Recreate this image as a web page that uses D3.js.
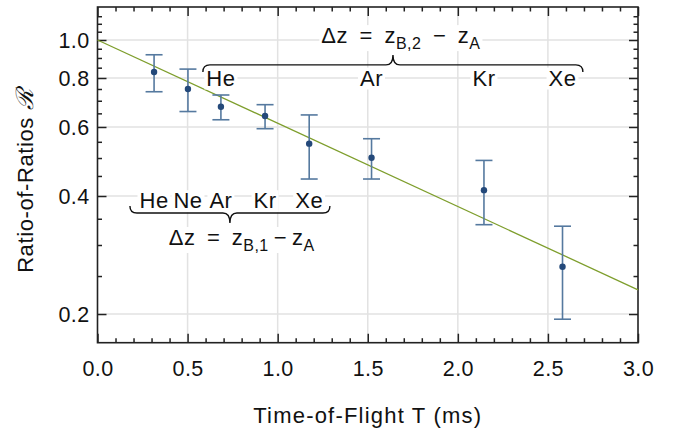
<!DOCTYPE html>
<html>
<head>
<meta charset="utf-8">
<script src="https://cdn.jsdelivr.net/npm/d3@7"></script>
<style>
  body { margin: 0; background: #fff; }
  text { font-family: "Liberation Sans", Arial, sans-serif; fill: #111; }
</style>
</head>
<body>
<div id="main"></div>
<script>
// Measured points: time of flight T (ms), ratio R and the error bar ends
var timeT  = [0.314, 0.502, 0.685, 0.930, 1.175, 1.521, 2.145, 2.581];
var ratioR = [0.829, 0.750, 0.676, 0.640, 0.544, 0.501, 0.414, 0.264];
var errLow = [0.738, 0.657, 0.626, 0.594, 0.442, 0.442, 0.338, 0.194];
var errHigh = [0.917, 0.843, 0.724, 0.684, 0.644, 0.560, 0.493, 0.335];

// Fitted exponential line, end points
var fitT = [0, 3.0];
var fitR = [1.0, 0.2306];

// Tick labels
var xTicks = [0, 0.5, 1.0, 1.5, 2.0, 2.5, 3.0];
var yTicks = [0.2, 0.4, 0.6, 0.8, 1.0];

// Element labels above the upper brace (z_B,2) and above the lower brace (z_B,1)
var upperNames = ["He", "Ar", "Kr", "Xe"];
var upperT = [0.685, 1.521, 2.145, 2.581];
var lowerNames = ["He", "Ne", "Ar", "Kr", "Xe"];
var lowerT = [0.314, 0.502, 0.685, 0.930, 1.175];

var width = 678, height = 430;
var plotLeft = 97.5, plotRight = 638, plotTop = 7, plotBottom = 342.7;

var svg = d3.select("#main").append("svg")
  .attr("width", width)
  .attr("height", height);

var x = d3.scaleLinear().domain([0, 3]).range([plotLeft, plotRight]);
var y = d3.scaleLog().domain([0.169, 1.214]).range([plotBottom, plotTop]);

var xMinor = d3.range(0, 3.0001, 0.1).filter(function(v) { return Math.abs(v * 2 - Math.round(v * 2)) > 1e-6; });
var yMinor = d3.range(0.25, 1.2001, 0.05).filter(function(v) { return Math.abs(v * 5 - Math.round(v * 5)) > 1e-6; });

// Grid lines
var grid = svg.append("g").attr("stroke", "#e2e2e2").attr("stroke-width", 1.5);
xTicks.slice(1, -1).forEach(function(v) {
  grid.append("line").attr("x1", x(v)).attr("x2", x(v)).attr("y1", plotTop).attr("y2", plotBottom);
});
yTicks.forEach(function(v) {
  grid.append("line").attr("x1", plotLeft).attr("x2", plotRight).attr("y1", y(v)).attr("y2", y(v));
});

// Frame axes, ticks pointing inward on all four sides
function axisSet(axis, scale, major, minor, tr, labels) {
  var gMinor = svg.append("g").attr("transform", tr)
    .call(axis(scale).tickValues(minor).tickSize(-4.5).tickFormat(""));
  var gMajor = svg.append("g").attr("transform", tr)
    .call(axis(scale).tickValues(major).tickSize(-9).tickPadding(0)
      .tickFormat(labels ? d3.format(".1f") : ""));
  [gMinor, gMajor].forEach(function(g) {
    g.attr("font-size", null).attr("font-family", null);
    g.select(".domain").remove();
    g.selectAll(".tick line").attr("stroke", "#222").attr("stroke-width", 1.5);
  });
  gMajor.selectAll(".tick text")
    .style("font-size", "21.5px")
    .style("letter-spacing", "0.4px")
    .attr("fill", "#111");
  return gMajor;
}
var gx = axisSet(d3.axisBottom, x, xTicks, xMinor, "translate(0," + plotBottom + ")", true);
gx.selectAll(".tick text").attr("dy", null).attr("y", 33);
axisSet(d3.axisTop, x, xTicks, xMinor, "translate(0," + plotTop + ")", false);
var gy = axisSet(d3.axisLeft, y, yTicks, yMinor, "translate(" + plotLeft + ",0)", true);
gy.selectAll(".tick text").attr("x", -8).attr("dy", "0.35em");
axisSet(d3.axisRight, y, yTicks, yMinor, "translate(" + plotRight + ",0)", false);

svg.append("rect")
  .attr("x", plotLeft).attr("y", plotTop)
  .attr("width", plotRight - plotLeft).attr("height", plotBottom - plotTop)
  .attr("fill", "none").attr("stroke", "#222").attr("stroke-width", 1.6);

// Fitted line
svg.append("line")
  .attr("x1", x(fitT[0])).attr("y1", y(fitR[0]))
  .attr("x2", x(fitT[1])).attr("y2", y(fitR[1]))
  .attr("stroke", "#7e9e2c").attr("stroke-width", 1.3);

// Error bars and points
var bars = svg.append("g").attr("stroke", "#55799f").attr("stroke-width", 1.6);
timeT.forEach(function(t, i) {
  bars.append("line").attr("x1", x(t)).attr("x2", x(t)).attr("y1", y(errLow[i])).attr("y2", y(errHigh[i]));
  bars.append("line").attr("x1", x(t) - 8.5).attr("x2", x(t) + 8.5).attr("y1", y(errLow[i])).attr("y2", y(errLow[i]));
  bars.append("line").attr("x1", x(t) - 8.5).attr("x2", x(t) + 8.5).attr("y1", y(errHigh[i])).attr("y2", y(errHigh[i]));
});
svg.append("g").selectAll("circle").data(timeT).enter().append("circle")
  .attr("cx", function(d) { return x(d); })
  .attr("cy", function(d, i) { return y(ratioR[i]); })
  .attr("r", 3.2)
  .attr("fill", "#24497a");

// Text with a white box behind it (hides the grid lines)
function boxedText(px, py, build) {
  var g = svg.append("g");
  var rect = g.append("rect").attr("fill", "#fff");
  var t = g.append("text").attr("x", px).attr("y", py)
    .attr("text-anchor", "middle").style("font-size", "22px").style("letter-spacing", "0.5px");
  build(t);
  var b = t.node().getBBox();
  rect.attr("x", b.x - 2).attr("y", b.y + 2).attr("width", b.width + 4).attr("height", b.height - 3);
  return g;
}

// Δz = z_sub − z_A ; sp1 / sp2 are the gaps round "=" and "−"
function deltaZ(t, sub, sp1, sp2) {
  t.append("tspan").text("\u0394z" + sp1 + "=" + sp1 + "z");
  t.append("tspan").text(sub).attr("dy", 6).style("font-size", "16px");
  t.append("tspan").text(sp2 + "\u2212" + sp2 + "z").attr("dy", -6);
  t.append("tspan").text("A").attr("dy", 6).style("font-size", "16px");
}

// Curly brace; dir = -1 tip upward, +1 tip downward
function brace(x0, x1, xm, yb, dir) {
  var r = 7, h = 10;
  var d = "M" + x0 + "," + (yb - dir * r) +
    " Q" + x0 + "," + yb + " " + (x0 + r) + "," + yb +
    " L" + (xm - r) + "," + yb +
    " Q" + xm + "," + yb + " " + xm + "," + (yb + dir * h) +
    " Q" + xm + "," + yb + " " + (xm + r) + "," + yb +
    " L" + (x1 - r) + "," + yb +
    " Q" + x1 + "," + yb + " " + x1 + "," + (yb - dir * r);
  svg.append("path").attr("d", d)
    .attr("fill", "none").attr("stroke", "#111").attr("stroke-width", 1.4);
}

// Upper group: z_B,2
upperNames.forEach(function(n, i) {
  boxedText(x(upperT[i]), y(0.8) + 7.5, function(t) { t.text(n); });
});
brace(x(0.585), x(2.694), x(1.64), y(0.864), -1);
boxedText(x(1.684), y(0.982), function(t) { deltaZ(t, "B,2", "\u2002", "\u2002"); });

// Lower group: z_B,1
lowerNames.forEach(function(n, i) {
  boxedText(x(lowerT[i]), y(0.389) + 7.5, function(t) { t.text(n); });
});
brace(x(0.18), x(1.29), x(0.735), y(0.362), 1);
boxedText(x(0.80), y(0.300), function(t) { deltaZ(t, "B,1", "\u2002", "\u2009"); });

// Axis titles
svg.append("text")
  .attr("x", (plotLeft + plotRight) / 2).attr("y", 423)
  .attr("text-anchor", "middle").style("font-size", "22px")
  .style("letter-spacing", "1.2px")
  .text("Time-of-Flight T (ms)");

var yl = svg.append("text")
  .attr("transform", "translate(33," + ((plotTop + plotBottom) / 2 + 6) + ") rotate(-90)")
  .attr("text-anchor", "middle").style("font-size", "22px").style("letter-spacing", "0.6px");
yl.append("tspan").text("Ratio-of-Ratios ");
yl.append("tspan").text("\u211B").style("font-family", "'DejaVu Serif', serif")
  .style("font-style", "italic").style("font-size", "24px");
</script>
</body>
</html>
